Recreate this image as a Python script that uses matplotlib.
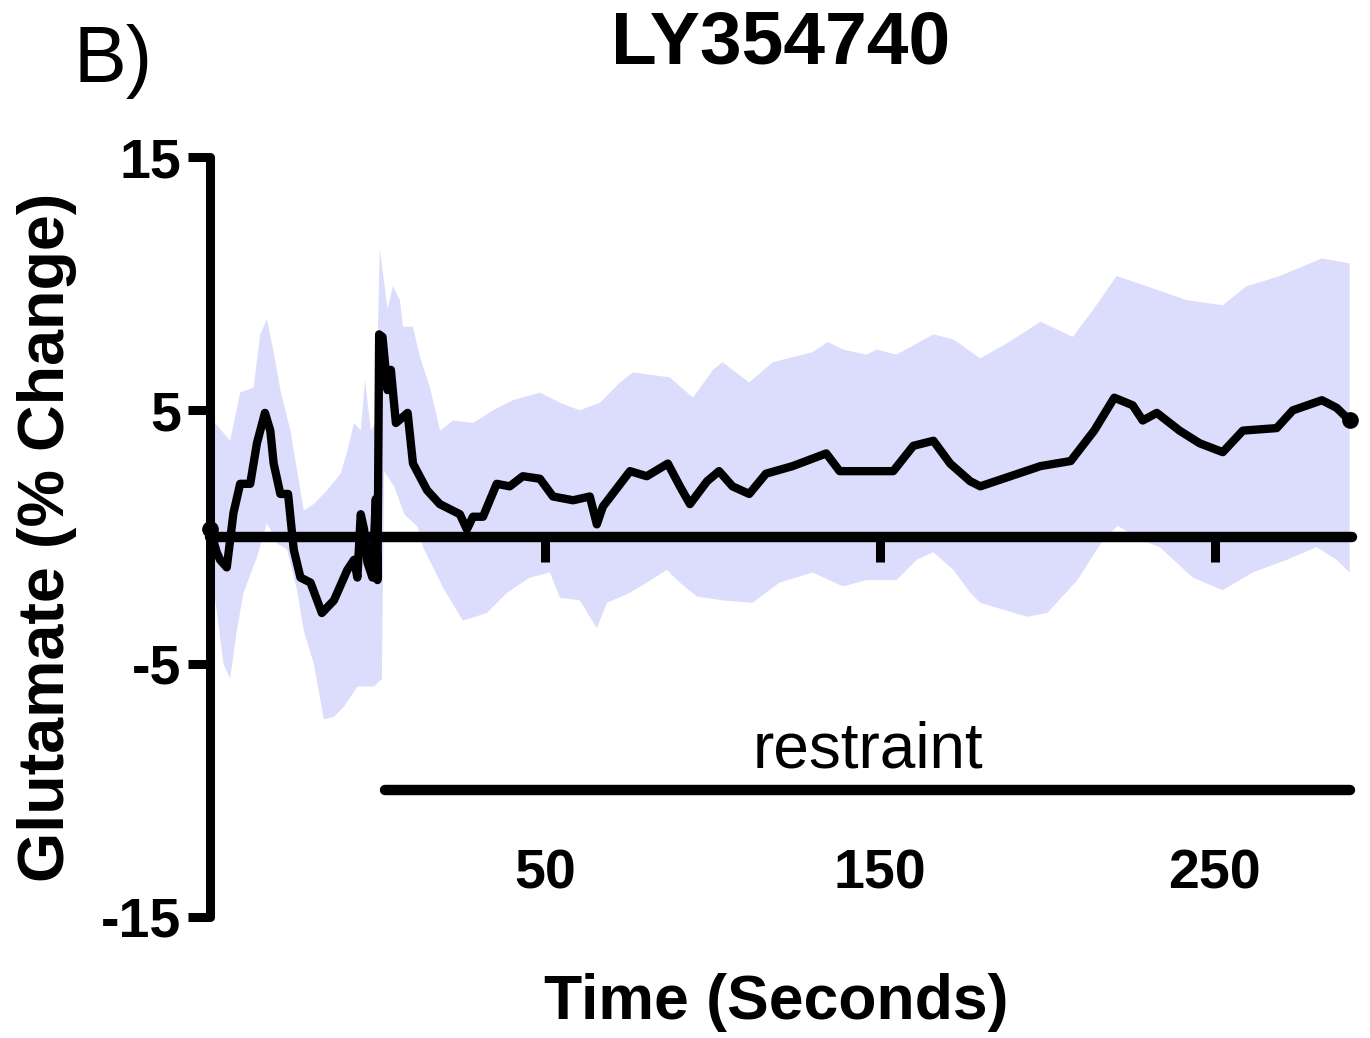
import numpy as np
import matplotlib
matplotlib.use('Agg')
import matplotlib.pyplot as plt

plt.rcParams['font.family'] = ['Liberation Sans', 'DejaVu Sans']

# mean glutamate trace (% change) vs time (s)
t_mean = [-50, -48, -47, -45, -43, -41, -38, -36, -33.6, -32, -31, -29, -26.7, -25, -23, -20,
          -16.6, -13, -9, -7, -6, -5, -4, -3, -1.5, -0.5, 0, 0.5, 1.5, 3, 4, 5.5, 9, 10.6, 14.8,
          18.6, 24.6, 26.7, 28.5, 31.5, 35.6, 39.5, 43.4, 48.5, 52.4, 58.4, 63.4, 65.5, 67.3,
          75.4, 80.4, 86.7, 90.3, 93.3, 98.4, 102, 106, 111, 116, 124, 134, 138, 148, 154, 160,
          166, 171, 177, 180, 189, 198, 207, 214, 220, 225.5, 228.5, 232.7, 239.5, 245.5, 252.4,
          258.4, 268.5, 273.3, 282, 286.4, 290.3]
mean = [0.3, -0.6, -0.9, -1.2, 0.95, 2.1, 2.1, 3.7, 4.9, 4.2, 2.9, 1.7, 1.7, -0.5, -1.6, -1.8,
        -3.0, -2.5, -1.3, -0.9, -1.6, 0.9, 0.3, -1.0, -1.6, 1.5, -1.7, 8.0, 7.9, 5.8, 6.6, 4.5,
        4.9, 2.9, 1.85, 1.3, 0.9, 0.3, 0.8, 0.8, 2.1, 2.0, 2.4, 2.3, 1.6, 1.45, 1.6, 0.5, 1.2,
        2.6, 2.4, 2.9, 2.0, 1.3, 2.2, 2.6, 2.0, 1.7, 2.5, 2.8, 3.3, 2.6, 2.6, 2.6, 3.6,
        3.8, 2.9, 2.2, 2.0, 2.4, 2.8, 3.0, 4.2, 5.5, 5.2, 4.6, 4.9, 4.2, 3.7, 3.35,
        4.2, 4.3, 5.0, 5.4, 5.1, 4.6]

# SEM band upper edge
t_up = [-50, -48.5, -44, -41, -37, -35, -33, -31, -29, -26, -22, -19, -15, -11, -9, -7, -5,
        -3.7, -2, -0.5, 0.7, 3, 4.6, 6.7, 7.6, 10.6, 12.7, 15.7, 18.7, 22.6, 28.6, 34.5, 40.4,
        48.5, 54.5, 60.4, 66.4, 72.4, 76.3, 87.3, 94.2, 100.2, 103, 111, 118, 130, 134.5, 139,
        146, 149, 155, 166, 172, 180, 188, 198, 207.6, 213.6, 220.7, 229.7, 241.6, 252.4,
        259.5, 269.4, 282, 290.3]
upper = [4.5, 4.5, 3.8, 5.7, 5.9, 8.0, 8.6, 7.3, 5.8, 4.2, 1.05, 1.3, 1.85, 2.5, 3.4, 4.5, 4.2,
         6.2, 4.2, 4.5, 11.4, 9.0, 9.9, 9.35, 8.3, 8.3, 7.1, 5.9, 4.2, 4.6, 4.5, 5.0, 5.4,
         5.7, 5.3, 5.0, 5.3, 6.1, 6.5, 6.3, 5.5, 6.6, 6.9, 6.1, 6.9, 7.3, 7.7, 7.4,
         7.2, 7.4, 7.2, 8.0, 7.8, 7.05, 7.65, 8.5, 7.9, 8.95, 10.3, 9.9, 9.35, 9.15,
         9.9, 10.3, 11.0, 10.8]

# SEM band lower edge
t_lo = [-50, -48.5, -46, -44, -42, -40, -36, -33, -30, -27, -24, -22, -19, -16, -13, -10, -6,
        -1, 1.3, 2, 5, 8, 12, 13.6, 19.6, 25.5, 32.7, 38.7, 45.5, 51.5, 54.5, 60.4, 65.5,
        68.5, 75.4, 80.4, 86.4, 90.3, 95.4, 103, 112, 120, 130, 139, 146, 155, 161, 166, 172,
        177, 180, 194, 200, 209, 216, 221, 227.6, 233.6, 243.4, 252.4, 261.3, 271.5, 280.4,
        286.4, 290.3]
lower = [-2.4, -2.4, -5.0, -5.6, -3.7, -2.2, -0.8, 0.55, -0.25, -0.5, -2.1, -3.7, -5.0, -7.2,
         -7.1, -6.7, -5.9, -5.9, -5.6, 2.6, 2.0, 0.9, 0.4, -0.4, -2.0, -3.3, -3.0, -2.2, -1.6,
         -1.4, -2.4, -2.5, -3.6, -2.6, -2.2, -1.8, -1.3, -1.8, -2.35, -2.5, -2.6, -1.8, -1.4,
         -1.95, -1.7, -1.7, -0.9, -0.6, -1.3, -2.2, -2.6, -3.15, -3.0, -1.7, -0.25, 0.45,
         -0.1, -0.4, -1.6, -2.1, -1.4, -0.9, -0.4, -0.9, -1.4]

restraint_x = [2.2, 290.5]
restraint_y = [-10, -10]

xticks = [50, 150, 250]
yticks = [-15, -5, 5, 15]

fig = plt.figure(figsize=(13.7, 10.38), dpi=100)
ax = fig.add_axes([0.1533, 0.1166, 0.8336, 0.7321])
ax.set_xlim(-50, 291)
ax.set_ylim(-15, 15)

band_x = np.concatenate([t_up, t_lo[::-1]])
band_y = np.concatenate([upper, lower[::-1]])
ax.fill(band_x, band_y, color='#dcdcfd', lw=0, zorder=1)

ax.plot(t_mean, mean, color='black', lw=6, solid_joinstyle='round', solid_capstyle='round',
        marker='o', markevery=[0, len(t_mean) - 1], markersize=11, zorder=3, clip_on=False)

ax.plot(restraint_x, restraint_y, color='black', lw=7.5, solid_capstyle='round', clip_on=False)
ax.text(146.5, -9.1, 'restraint', ha='center', va='baseline', fontsize=46)

for s in ['top', 'right']:
    ax.spines[s].set_visible(False)
ax.spines['bottom'].set_position(('data', 0))
ax.spines['bottom'].set_linewidth(7.5)
ax.spines['bottom'].set_capstyle('round')
ax.spines['bottom'].set_zorder(4)
ax.spines['left'].set_linewidth(6.5)
ax.spines['left'].set_capstyle('round')

ax.set_xticks(xticks)
ax.set_xticklabels([str(v) for v in xticks], fontsize=40, fontweight='bold')
ax.set_yticks(yticks)
ax.set_yticklabels([str(v) for v in yticks], fontsize=40, fontweight='bold')
ax.tick_params(axis='x', length=18, width=6.5, pad=206)
ax.tick_params(axis='y', length=16, width=6.5, pad=5)

ax.set_ylabel('Glutamate (% Change)', fontsize=46.5, fontweight='bold', va='center')
ax.yaxis.set_label_coords(-0.1427, 0.5)
ax.set_xlabel('Time (Seconds)', fontsize=45, fontweight='bold', va='center')
ax.xaxis.set_label_coords(0.4955, -0.112)

fig.text(781 / 1370, 1 - 64 / 1038, 'LY354740', ha='center', va='baseline',
         fontsize=54, fontweight='bold')
fig.text(74 / 1370, 1 - 82 / 1038, 'B)', ha='left', va='baseline', fontsize=57)

fig.savefig('out.png', dpi=100)
